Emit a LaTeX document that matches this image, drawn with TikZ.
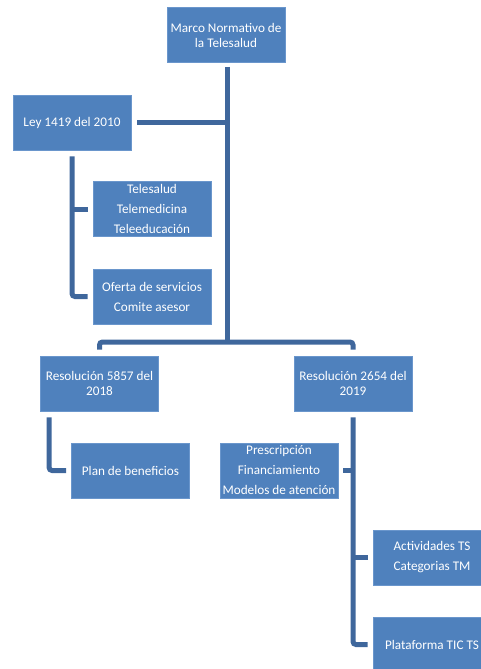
\documentclass[tikz,border=0pt]{standalone}
\usepackage{fontspec}
\setmainfont{Carlito}
\definecolor{boxfill}{HTML}{4F81BD}
\definecolor{boxline}{HTML}{6A96CC}
\definecolor{conncol}{HTML}{3F679C}
\tikzset{
  orgbox/.style={draw=boxline, line width=0.8pt, fill=boxfill, text=white,
    minimum width=118pt, minimum height=55pt, inner sep=0pt, align=center,
    font=\fontsize{13.2}{15}\selectfont},
  conn/.style={draw=conncol, line width=5pt, rounded corners=3pt}
}
\begin{document}
\begin{tikzpicture}[x=1pt,y=-1pt]
\useasboundingbox (0,0) rectangle (481,669);
\clip (0,0) rectangle (481,669);
% boxes
\node[orgbox] (top) at (226,35) {Marco Normativo de\\la Telesalud};
\node[orgbox] (ley) at (72,122.5) {Ley 1419 del 2010};
\node[orgbox] (tele) at (152,209) {Telesalud\\[5pt]Telemedicina\\[5pt]Teleeducación};
\node[orgbox] (oferta) at (152,296.5) {Oferta de servicios\\[5pt]Comite asesor};
\node[orgbox] (resA) at (99.5,383.5) {Resolución 5857 del\\2018};
\node[orgbox] (plan) at (130.5,470.5) {Plan de beneficios};
\node[orgbox] (resB) at (353,383.5) {Resolución 2654 del\\2019};
\node[orgbox] (presc) at (279,470.5) {Prescripción\\[5pt]Financiamiento\\[5pt]Modelos de atención};
\node[orgbox] (activ) at (432,557.5) {Actividades TS\\[5pt]Categorias TM};
\node[orgbox] (plat) at (432,644.5) {Plataforma TIC TS};
% coordinates
\coordinate (trunkTop) at ([xshift=1.5pt,yshift=-4pt]top.south);
\coordinate (hbar) at (227,342);
% trunk and main bar
\draw[conn] (trunkTop) -- (trunkTop |- hbar);
\draw[conn] ([yshift=6pt]resA.north) -- (resA.north |- hbar) -- (resB.north |- hbar) -- ([yshift=6pt]resB.north);
% Ley to trunk
\draw[conn] ([xshift=6pt]ley.east) -- (ley.east -| trunkTop);
% Ley children
\draw[conn] ([yshift=-6pt]ley.south) -- (ley.south |- oferta.west) -- ([xshift=-5pt]oferta.west);
\draw[conn] (ley.south |- tele.west) -- ([xshift=-5pt]tele.west);
% Res 5857 child
\coordinate (ra) at ([xshift=9pt,yshift=-6pt]resA.south west);
\draw[conn] (ra) -- (ra |- plan.west) -- ([xshift=-5pt]plan.west);
% Res 2654 children
\draw[conn] ([yshift=-6pt]resB.south) -- (resB.south |- plat.west) -- ([xshift=-5pt]plat.west);
\draw[conn] ([xshift=5pt]presc.east) -- (resB.south |- presc.east);
\draw[conn] (resB.south |- activ.west) -- ([xshift=-5pt]activ.west);
\end{tikzpicture}
\end{document}
